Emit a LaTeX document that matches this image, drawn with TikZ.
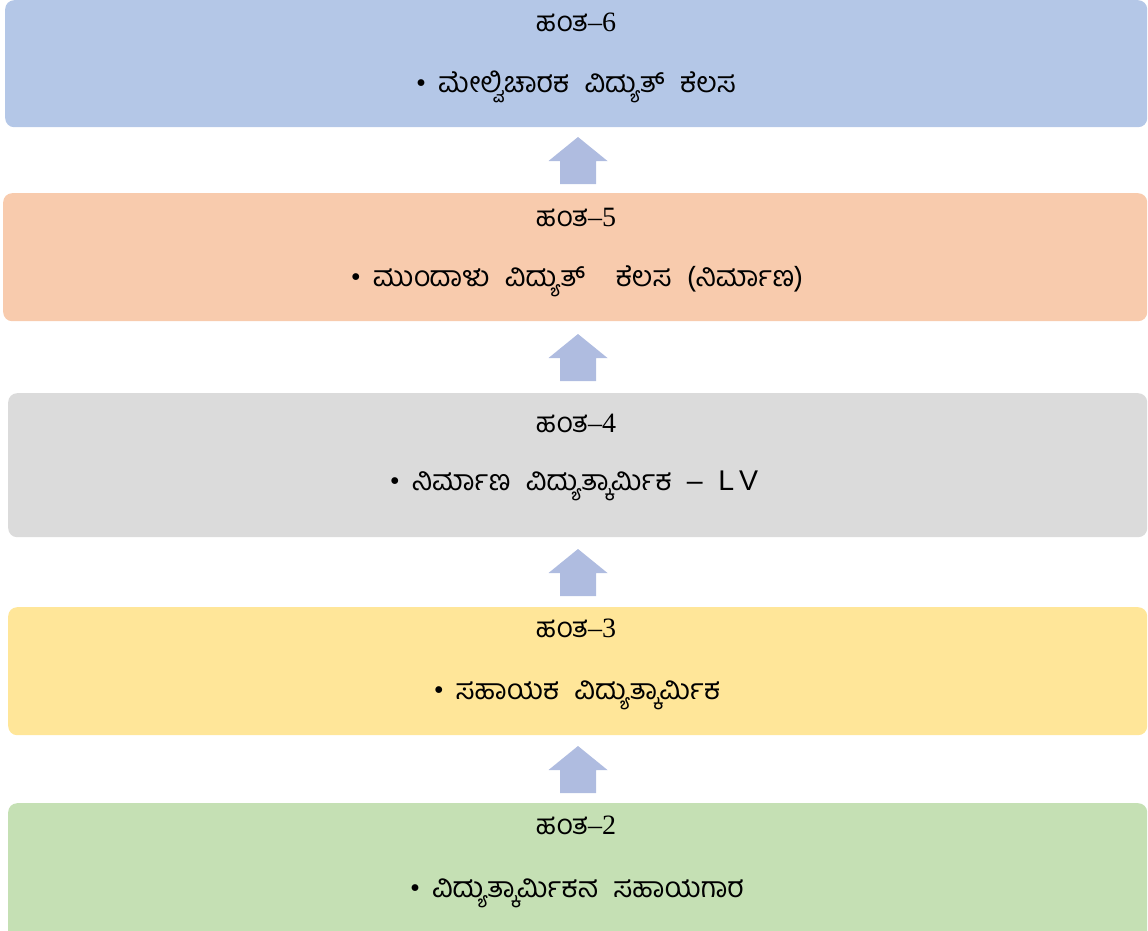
\documentclass[tikz,border=0pt]{standalone}
\usepackage{fontspec}
\setmainfont{Liberation Serif}
\newfontfamily\kn[Script=Kannada,WordSpace=2.2]{Hind Mysuru}
\newfontfamily\lsans{Liberation Sans}
\definecolor{c6}{HTML}{B4C7E7}
\definecolor{c5}{HTML}{F8CBAD}
\definecolor{c4}{HTML}{DBDBDB}
\definecolor{c3}{HTML}{FFE699}
\definecolor{c2}{HTML}{C5E0B4}
\definecolor{carr}{HTML}{AFBCE0}
\newcommand{\bul}{•\hspace{0.42em}}
\tikzset{
  stagebox/.style={fill=#1, draw=none, rounded corners=9pt, inner sep=0pt, anchor=north west},
  uparr/.pic={\fill[carr] (0,-23.5) -- (29.5,0.5) -- (18,0.5) -- (18,23.5) -- (-18,23.5) -- (-18,0.5) -- (-29.5,0.5) -- cycle;},
  ttl/.style={inner sep=0pt, font=\fontsize{28}{32}\selectfont},
  itm/.style={inner sep=0pt, font=\fontsize{28.5}{33}\selectfont},
}
\begin{document}
\begin{tikzpicture}[x=1pt,y=-1pt]
\useasboundingbox (0,0) rectangle (1148,931);
\node[stagebox=c6, minimum width=1142pt, minimum height=127pt] (b6) at (5,0) {};
\node[stagebox=c5, minimum width=1144pt, minimum height=128pt] (b5) at (3,193) {};
\node[stagebox=c4, minimum width=1139pt, minimum height=144pt] (b4) at (8,393) {};
\node[stagebox=c3, minimum width=1139pt, minimum height=128pt] (b3) at (8,607) {};
\node[stagebox=c2, minimum width=1139pt, minimum height=140pt] (b2) at (8,803) {};

\pic at (578,160.5) {uparr};
\pic at (578,357.5) {uparr};
\pic at (578,572.5) {uparr};
\pic at (578,769.5) {uparr};

\node[ttl] (t6) at (576,22) {{\kn ಹಂತ}–6};
\node[itm] (i6) at (576,87) {\bul{\kn ಮೇಲ್ವಿಚಾರಕ ವಿದ್ಯುತ್ ಕೆಲಸ}};
\node[ttl] (t5) at (576,217) {{\kn ಹಂತ}–5};
\node[itm] (i5) at (577,281) {\bul{\kn ಮುಂದಾಳು ವಿದ್ಯುತ್\ \ ಕೆಲಸ (ನಿರ್ಮಾಣ)}};
\node[ttl] (t4) at (576,423) {{\kn ಹಂತ}–4};
\node[itm] (i4) at (574,486) {\bul{\kn ನಿರ್ಮಾಣ ವಿದ್ಯುತ್ಕಾರ್ಮಿಕ} {\lsans \ –\ \ L\,V}};
\node[ttl] (t3) at (576,628) {{\kn ಹಂತ}–3};
\node[itm] (i3) at (577,695) {\bul{\kn ಸಹಾಯಕ ವಿದ್ಯುತ್ಕಾರ್ಮಿಕ}};
\node[ttl] (t2) at (576,825) {{\kn ಹಂತ}–2};
\node[itm] (i2) at (577,893) {\bul{\kn ವಿದ್ಯುತ್ಕಾರ್ಮಿಕನ ಸಹಾಯಗಾರ}};
\end{tikzpicture}
\end{document}
